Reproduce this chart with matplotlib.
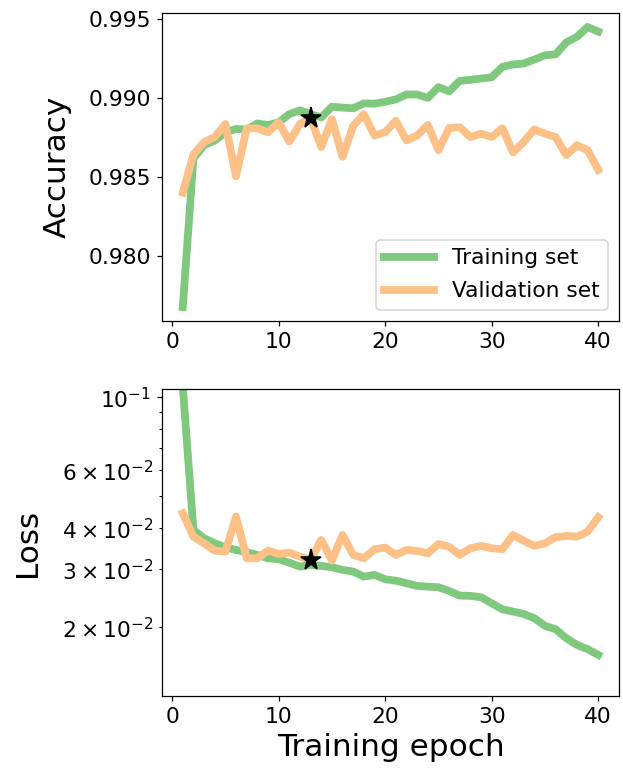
import matplotlib
matplotlib.use("Agg")
import matplotlib.pyplot as plt
import numpy as np

epochs = list(range(1, 41))

train_acc = [0.97677, 0.98617, 0.98700, 0.98730, 0.98782, 0.98803, 0.98799, 0.98838, 0.98828, 0.98845,
             0.98897, 0.98921, 0.98897, 0.98876, 0.98944, 0.98938, 0.98934, 0.98965, 0.98963, 0.98975,
             0.98990, 0.99021, 0.99021, 0.99000, 0.99068, 0.99041, 0.99107, 0.99114, 0.99122, 0.99130,
             0.99196, 0.99211, 0.99217, 0.99242, 0.99269, 0.99275, 0.99351, 0.99386, 0.99448, 0.99419]

val_acc = [0.98400, 0.98642, 0.98720, 0.98752, 0.98834, 0.98503, 0.98807, 0.98807, 0.98782, 0.98845,
           0.98724, 0.98834, 0.98872, 0.98689, 0.98865, 0.98627, 0.98824, 0.98896, 0.98762, 0.98783,
           0.98855, 0.98731, 0.98762, 0.98829, 0.98669, 0.98808, 0.98814, 0.98752, 0.98773, 0.98752,
           0.98808, 0.98655, 0.98721, 0.98800, 0.98773, 0.98752, 0.98638, 0.98700, 0.98669, 0.98545]

train_loss = [0.1080, 0.03951, 0.03726, 0.03598, 0.03500, 0.03435, 0.03380, 0.03317, 0.03240, 0.03218,
              0.03142, 0.03056, 0.03093, 0.03071, 0.03043, 0.02986, 0.02951, 0.02849, 0.02884, 0.02797,
              0.02770, 0.02720, 0.02669, 0.02656, 0.02645, 0.02577, 0.02495, 0.02489, 0.02466, 0.02364,
              0.02267, 0.02230, 0.02194, 0.02129, 0.02018, 0.01971, 0.01851, 0.01767, 0.01714, 0.01647]

val_loss = [0.04441, 0.03770, 0.03598, 0.03418, 0.03394, 0.04337, 0.03240, 0.03240, 0.03418, 0.03338,
            0.03369, 0.03276, 0.03205, 0.03683, 0.03187, 0.03815, 0.03317, 0.03240, 0.03451, 0.03490,
            0.03317, 0.03435, 0.03410, 0.03355, 0.03581, 0.03514, 0.03317, 0.03475, 0.03532, 0.03475,
            0.03451, 0.03815, 0.03665, 0.03532, 0.03598, 0.03754, 0.03788, 0.03770, 0.03904, 0.04318]

best_epoch = 13
green = "#7fc97f"
orange = "#fdc086"

dpi = 112
fig = plt.figure(figsize=(623 / dpi, 775 / dpi), dpi=dpi)
plt.rcParams['font.family'] = ['DejaVu Sans']

ax1 = fig.add_axes([162 / 623, 1 - 321 / 775, (619 - 162) / 623, (321 - 13) / 775])
ax2 = fig.add_axes([162 / 623, 1 - 696 / 775, (619 - 162) / 623, (696 - 389) / 775])

ax1.plot(epochs, train_acc, color=green, lw=5, label="Training set")
ax1.plot(epochs, val_acc, color=orange, lw=5, label="Validation set")
ax1.plot([best_epoch], [val_acc[best_epoch - 1]], marker="*", color="black", ms=14, zorder=5)
ax1.set_ylabel("Accuracy", fontsize=20, labelpad=11)
ax1.tick_params(labelsize=14)
ax1.legend(loc="lower right", fontsize=14, handlelength=2.3, labelspacing=0.6)

ax2.plot(epochs, train_loss, color=green, lw=5)
ax2.plot(epochs, val_loss, color=orange, lw=5)
ax2.plot([best_epoch], [val_loss[best_epoch - 1]], marker="*", color="black", ms=14, zorder=5)
ax2.set_yscale("log")
ax2.set_ylim(0.01235, 0.106)
ax2.set_ylabel("Loss", fontsize=20, labelpad=13)
ax2.set_xlabel("Training epoch", fontsize=20)
ax2.tick_params(which="both", labelsize=14)

fig.savefig("out.png", dpi=dpi)
